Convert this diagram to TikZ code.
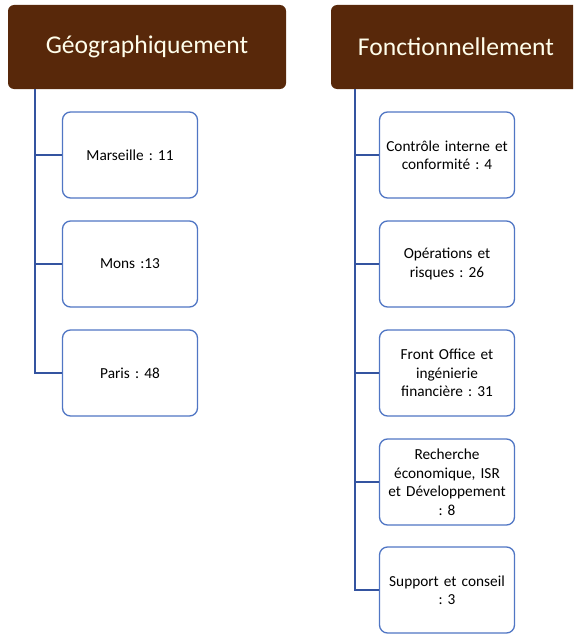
\documentclass[tikz,border=0pt]{standalone}
\usepackage{fontspec}
\setmainfont{Carlito}
\frenchspacing
\definecolor{brownhead}{RGB}{88,40,10}
\definecolor{boxblue}{RGB}{80,118,196}
\definecolor{lineblue}{RGB}{52,84,160}

\begin{document}
\begin{tikzpicture}[x=1pt,y=-1pt,
	head/.style={rectangle, rounded corners=6pt, fill=brownhead, text=white!92!yellow, minimum width=278pt, minimum height=84pt, font=\fontsize{25.6}{28}\selectfont, inner sep=0pt},
	unit/.style={rectangle, rounded corners=8pt, draw=boxblue, line width=1.3pt, fill=white, minimum width=135pt, minimum height=86pt, text width=132pt, align=center, font=\fontsize{15.3}{18.5}\selectfont, inner sep=0pt},
	link/.style={draw=lineblue, line width=1.6pt}]

	\clip (0,0) rectangle (573,634);
	\useasboundingbox (0,0) rectangle (573,634);

	%Nodes
	\node[head]	(geo)	at (147,47) {Géographiquement};
	\node[head, minimum width=250pt]	(fon)	at (456,47) {Fonctionnellement};

	\node[unit]	(mar)	at (130,155) {Marseille : 11};
	\node[unit]	(mons)	at (130,264) {Mons :13};
	\node[unit]	(par)	at (130,373) {Paris : 48};

	\node[unit]	(cic)	at (447,155) {Contrôle interne et\\conformité : 4};
	\node[unit]	(ops)	at (447,264) {Opérations et\\risques : 26};
	\node[unit]	(fo)	at (447,373) {Front Office et\\ingénierie\\financière : 31};
	\node[unit]	(rech)	at (447,482) {Recherche\\économique, ISR\\et Développement\\: 8};
	\node[unit]	(sup)	at (447,590) {Support et conseil\\: 3};

	\coordinate	(g0)	at (35,89);
	\coordinate	(f0)	at (355,89);

	%Lines
	\draw[link] (g0) |- (par.west);
	\draw[link] (g0 |- mar.west) -- (mar.west);
	\draw[link] (g0 |- mons.west) -- (mons.west);
	\draw[link] (f0) |- (sup.west);
	\foreach \n in {cic, ops, fo, rech}
		\draw[link] (f0 |- \n.west) -- (\n.west);
\end{tikzpicture}
\end{document}
